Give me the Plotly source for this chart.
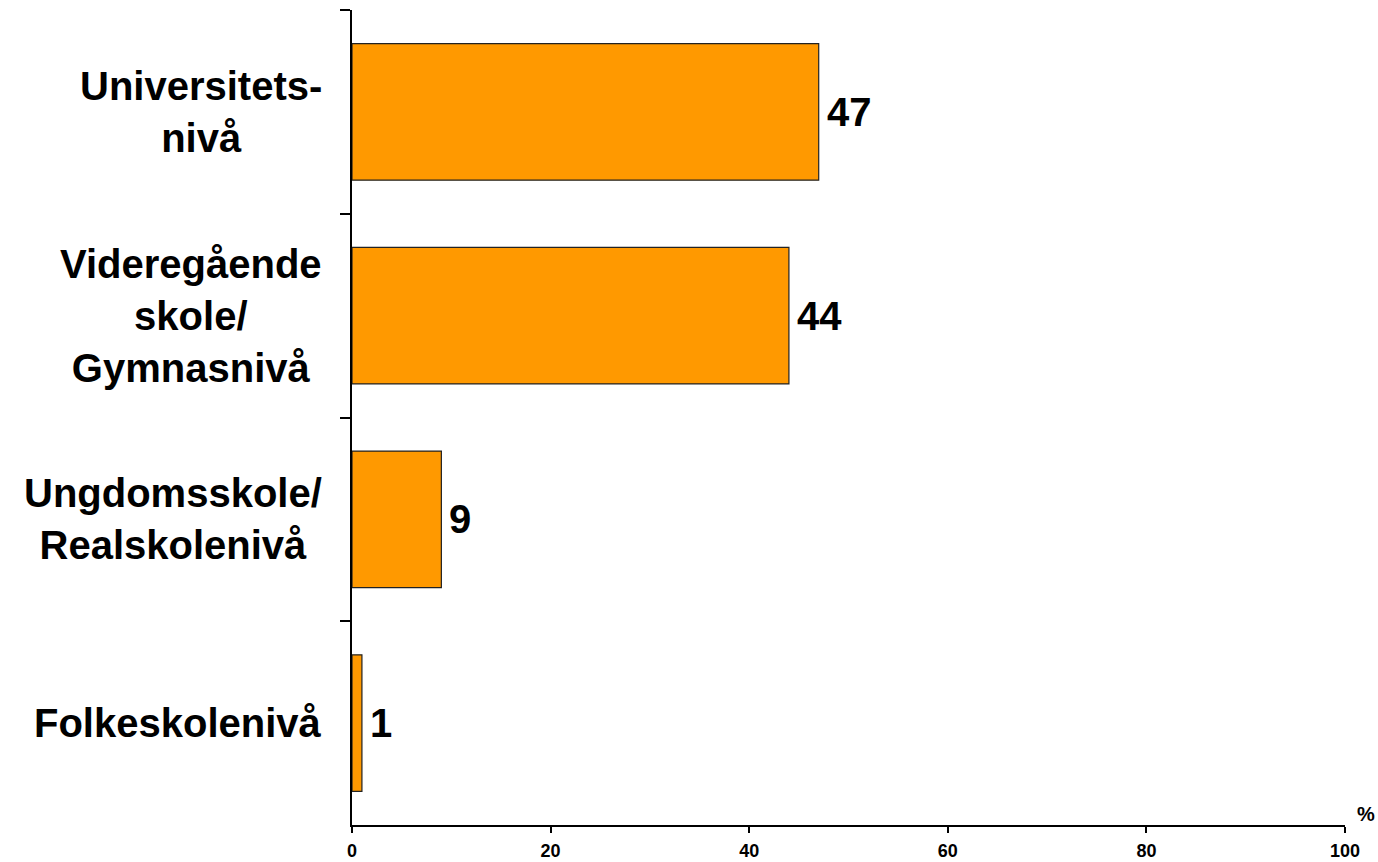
import plotly.graph_objects as go

categories = ["Universitets-<br>nivå", "Videregående<br>skole/<br>Gymnasnivå",
              "Ungdomsskole/<br>Realskolenivå", "Folkeskolenivå"]
values = [47, 44, 9, 1]
x_ticks = [0, 20, 40, 60, 80, 100]

FONT = "Liberation Sans, Arial, sans-serif"

fig = go.Figure()
fig.add_trace(go.Bar(
    x=values, y=categories, orientation="h", width=0.67,
    marker=dict(color="#FF9900", line=dict(color="#222222", width=1.2)),
    hoverinfo="skip",
))

for c, v in zip(categories, values):
    fig.add_annotation(x=v, y=c, xref="x", yref="y", text=str(v), showarrow=False,
                       xanchor="left", yanchor="middle", xshift=6,
                       font=dict(family=FONT, size=40, color="black", weight="bold"))
    fig.add_annotation(x=0, y=c, xref="paper", yref="y", text=c, showarrow=False,
                       xanchor="right", yanchor="middle", align="center", xshift=-28,
                       font=dict(family=FONT, size=40, color="black", weight="bold"))

fig.add_annotation(x=1, y=0, xref="paper", yref="paper", text="%", showarrow=False,
                   xanchor="left", yanchor="bottom", xshift=10, yshift=-2,
                   font=dict(family=FONT, size=20, color="black", weight="bold"))

fig.update_layout(
    width=1378, height=862,
    margin=dict(l=352, r=33, t=10, b=37),
    paper_bgcolor="white", plot_bgcolor="white",
    showlegend=False,
    xaxis=dict(range=[0, 100], tickvals=x_ticks, ticktext=[str(t) for t in x_ticks],
               showline=True, linecolor="black", linewidth=1.5, automargin=False,
               ticks="outside", ticklen=6, tickwidth=1.5, tickcolor="black",
               showgrid=False, zeroline=False, ticklabelstandoff=3,
               tickfont=dict(family=FONT, size=18, color="black", weight="bold")),
    yaxis=dict(range=[3.5, -0.5], type="category", showline=True, linecolor="black",
               linewidth=1.5, ticks="outside", ticklen=10, tickwidth=1.5, tickcolor="black",
               tickson="boundaries", showticklabels=False, showgrid=False, zeroline=False,
               automargin=False),
)

fig.write_html("out.html", config={"responsive": False, "displayModeBar": False},
               post_script="document.body.style.margin='0';document.body.style.overflow='hidden';")
